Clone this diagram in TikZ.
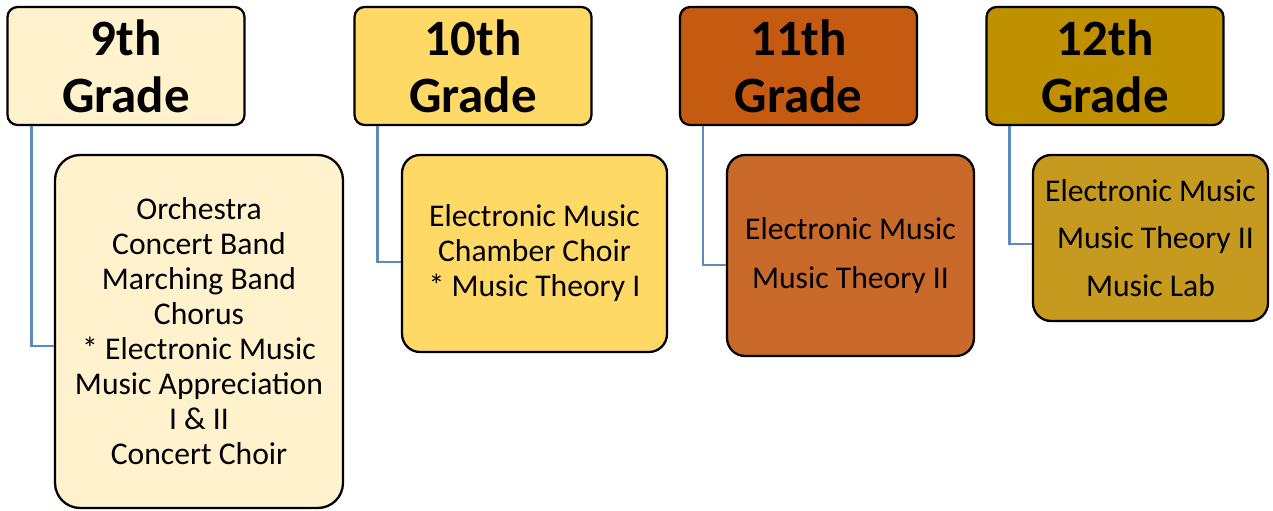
\documentclass[tikz,border=0pt]{standalone}
\usepackage{fontspec}
\setmainfont{Carlito}
\usetikzlibrary{positioning}

\definecolor{ninec}{HTML}{FFF2CC}
\definecolor{tenc}{HTML}{FFD966}
\definecolor{elevenc}{HTML}{C55A11}
\definecolor{elevenb}{HTML}{C96A2A}
\definecolor{twelvec}{HTML}{BF9000}
\definecolor{twelveb}{HTML}{C59A1E}
\definecolor{linkc}{HTML}{5A8BC0}

\begin{document}
\begin{tikzpicture}[
    x=0.02cm, y=-0.02cm,
    grade/.style={rectangle,rounded corners=0.2cm,draw=black,line width=1.3pt,
        minimum width=4.74cm,minimum height=2.36cm,align=center,
        font=\fontsize{29}{32.5}\selectfont\bfseries},
    course/.style={rectangle,rounded corners=0.36cm,draw=black,line width=1.3pt,
        align=center,font=\fontsize{18}{19.9}\selectfont},
    link/.style={draw=linkc,line width=1.3pt},
    ]
    \useasboundingbox (0,0) rectangle (1273,510);
    % grade headers
    \node[grade,fill=ninec] (h9) at (126,66) {9th\\Grade};
    \node[grade,fill=tenc] (h10) at (473,66) {10th\\Grade};
    \node[grade,fill=elevenc] (h11) at (798.5,66) {11th\\Grade};
    \node[grade,fill=twelvec] (h12) at (1105,66) {12th\\Grade};
    % course boxes
    \node[course,fill=ninec,minimum width=5.76cm,minimum height=7.06cm,rounded corners=0.5cm]
        (b9) at (199,331.5) {Orchestra\\Concert Band\\Marching Band\\Chorus\\* Electronic Music\\Music Appreciation\\I \& II\\Concert Choir};
    \node[course,fill=tenc,minimum width=5.3cm,minimum height=3.94cm]
        (b10) at (534.5,253.5) {Electronic Music\\Chamber Choir\\* Music Theory I};
    \node[course,fill=elevenb,minimum width=4.94cm,minimum height=4.02cm,
        font=\fontsize{18}{27.8}\selectfont]
        (b11) at (850.5,255.5) {Electronic Music\\Music Theory II};
    \node[course,fill=twelveb,minimum width=4.7cm,minimum height=3.32cm,
        font=\fontsize{18}{27.2}\selectfont]
        (b12) at (1150.5,238) {Electronic Music\\\hspace{0.2cm}Music Theory II\\Music Lab};
    % connectors
    \draw[link] ([xshift=0.5cm]h9.south west) |- ([yshift=-0.29cm]b9.west);
    \draw[link] ([xshift=0.48cm]h10.south west) |- ([yshift=-0.17cm]b10.west);
    \draw[link] ([xshift=0.48cm]h11.south west) |- ([yshift=-0.19cm]b11.west);
    \draw[link] ([xshift=0.48cm]h12.south west) |- ([yshift=-0.12cm]b12.west);
\end{tikzpicture}
\end{document}
